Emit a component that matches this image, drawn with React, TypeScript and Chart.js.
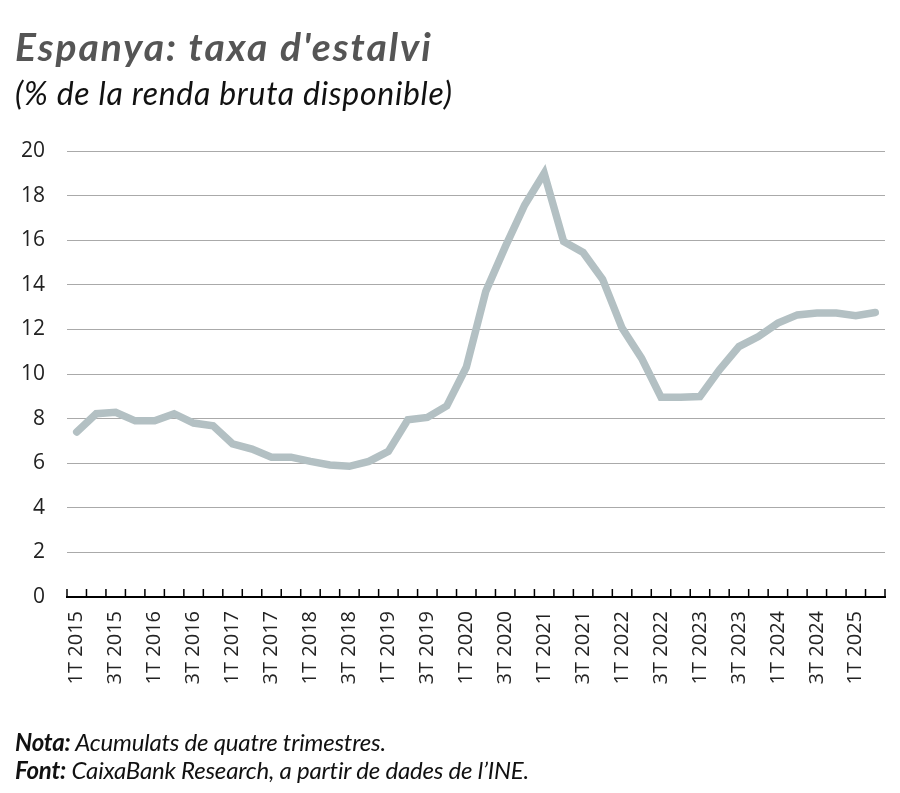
import React, { useEffect, useRef } from "react";
import { Chart, registerables } from "chart.js";

Chart.register(...registerables);

const categories = [
  "1T 2015", "2T 2015", "3T 2015", "4T 2015",
  "1T 2016", "2T 2016", "3T 2016", "4T 2016",
  "1T 2017", "2T 2017", "3T 2017", "4T 2017",
  "1T 2018", "2T 2018", "3T 2018", "4T 2018",
  "1T 2019", "2T 2019", "3T 2019", "4T 2019",
  "1T 2020", "2T 2020", "3T 2020", "4T 2020",
  "1T 2021", "2T 2021", "3T 2021", "4T 2021",
  "1T 2022", "2T 2022", "3T 2022", "4T 2022",
  "1T 2023", "2T 2023", "3T 2023", "4T 2023",
  "1T 2024", "2T 2024", "3T 2024", "4T 2024",
  "1T 2025", "2T 2025",
];

const savingsRate = [
  7.40, 8.22, 8.28, 7.90, 7.90, 8.22, 7.80, 7.68,
  6.87, 6.63, 6.27, 6.27, 6.08, 5.92, 5.86, 6.08,
  6.53, 7.95, 8.05, 8.57, 10.30, 13.70, 15.70, 17.58,
  19.00, 15.94, 15.45, 14.25, 12.06, 10.71, 8.96, 8.96,
  8.99, 10.19, 11.23, 11.68, 12.28, 12.65, 12.73, 12.73,
  12.61, 12.76,
];

const yTicks = [0, 2, 4, 6, 8, 10, 12, 14, 16, 18, 20];

const TITLE = "Espanya: taxa d'estalvi";
const SUBTITLE = "(% de la renda bruta disponible)";
const NOTE_LABEL = "Nota:";
const NOTE_TEXT = " Acumulats de quatre trimestres.";
const SOURCE_LABEL = "Font:";
const SOURCE_TEXT = " CaixaBank Research, a partir de dades de l\u2019INE.";

const TEXT_FONT = "'Lato', sans-serif";
const TICK_FONT = "'Open Sans', sans-serif";

const upTicksPlugin = {
  id: "upTicks",
  afterDraw(chart: any) {
    const x = chart.scales.x;
    const ctx = chart.ctx;
    const n = chart.data.labels.length;
    const half = (x.getPixelForValue(1) - x.getPixelForValue(0)) / 2;
    const yb = chart.chartArea.bottom;
    ctx.save();
    ctx.strokeStyle = "#000";
    ctx.lineWidth = 1.5;
    ctx.beginPath();
    for (let i = 0; i <= n; i++) {
      const px = i < n ? x.getPixelForValue(i) - half : x.getPixelForValue(n - 1) + half;
      ctx.moveTo(px, yb);
      ctx.lineTo(px, yb - 8);
    }
    ctx.stroke();
    ctx.restore();
  },
};

export default function App() {
  const ref = useRef<HTMLCanvasElement>(null);

  useEffect(() => {
    document.body.style.margin = "0";
    const canvas = ref.current;
    if (!canvas) return;
    const chart = new Chart(canvas, {
      type: "line",
      data: {
        labels: categories,
        datasets: [
          {
            data: savingsRate,
            borderColor: "#b3c0c3",
            borderWidth: 7.5,
            pointRadius: 0,
            tension: 0,
            borderJoinStyle: "miter",
            borderCapStyle: "round",
            fill: false,
          },
        ],
      },
      options: {
        responsive: false,
        animation: false,
        layout: { padding: { top: 151, left: 0, right: 15, bottom: 86 } },
        plugins: {
          legend: { display: false },
          tooltip: { enabled: false },
          title: { display: false },
        },
        scales: {
          x: {
            offset: true,
            grid: { display: false, offset: true },
            border: { display: true, color: "#000", width: 2 },
            ticks: {
              autoSkip: false,
              maxRotation: 90,
              minRotation: 90,
              padding: 6,
              color: "#222",
              font: { family: TICK_FONT, size: 20 },
              callback: (_v: any, i: number) => (i % 2 === 0 ? categories[i] : ""),
            },
            afterFit: (s: any) => {
              s.height = 110;
              s.paddingRight = 0;
              s.paddingLeft = 0;
            },
          },
          y: {
            min: 0,
            max: 20,
            afterBuildTicks: (s: any) => {
              s.ticks = yTicks.map((v) => ({ value: v }));
            },
            grid: { color: "#aaaaaa", lineWidth: 1, drawTicks: false },
            border: { display: false },
            ticks: {
              padding: 22,
              color: "#222",
              font: { family: TICK_FONT, size: 21 },
            },
            afterFit: (s: any) => {
              s.width = 67;
            },
          },
        },
      },
      plugins: [upTicksPlugin],
    });
    return () => chart.destroy();
  }, []);

  return (
    <div style={{ position: "relative", width: 900, height: 793, background: "#fff", overflow: "hidden" }}>
      <canvas ref={ref} width={900} height={793} style={{ position: "absolute", left: 0, top: 0 }} />
      <div
        style={{
          position: "absolute",
          left: 15,
          top: 27,
          fontFamily: TEXT_FONT,
          fontWeight: 700,
          fontStyle: "italic",
          fontSize: 39,
          letterSpacing: 2,
          lineHeight: 1,
          color: "#555555",
          whiteSpace: "nowrap",
        }}
      >
        {TITLE}
      </div>
      <div
        style={{
          position: "absolute",
          left: 15,
          top: 77,
          fontFamily: TEXT_FONT,
          fontStyle: "italic",
          fontSize: 32,
          letterSpacing: 0.7,
          lineHeight: 1,
          color: "#111",
          whiteSpace: "nowrap",
        }}
      >
        {SUBTITLE}
      </div>
      <div
        style={{
          position: "absolute",
          left: 15,
          top: 728,
          fontFamily: TEXT_FONT,
          fontStyle: "italic",
          fontSize: 24,
          letterSpacing: -0.2,
          lineHeight: "28px",
          color: "#111",
          whiteSpace: "nowrap",
        }}
      >
        <div>
          <span style={{ fontWeight: 700 }}>{NOTE_LABEL}</span>
          {NOTE_TEXT}
        </div>
        <div>
          <span style={{ fontWeight: 700 }}>{SOURCE_LABEL}</span>
          {SOURCE_TEXT}
        </div>
      </div>
    </div>
  );
}
